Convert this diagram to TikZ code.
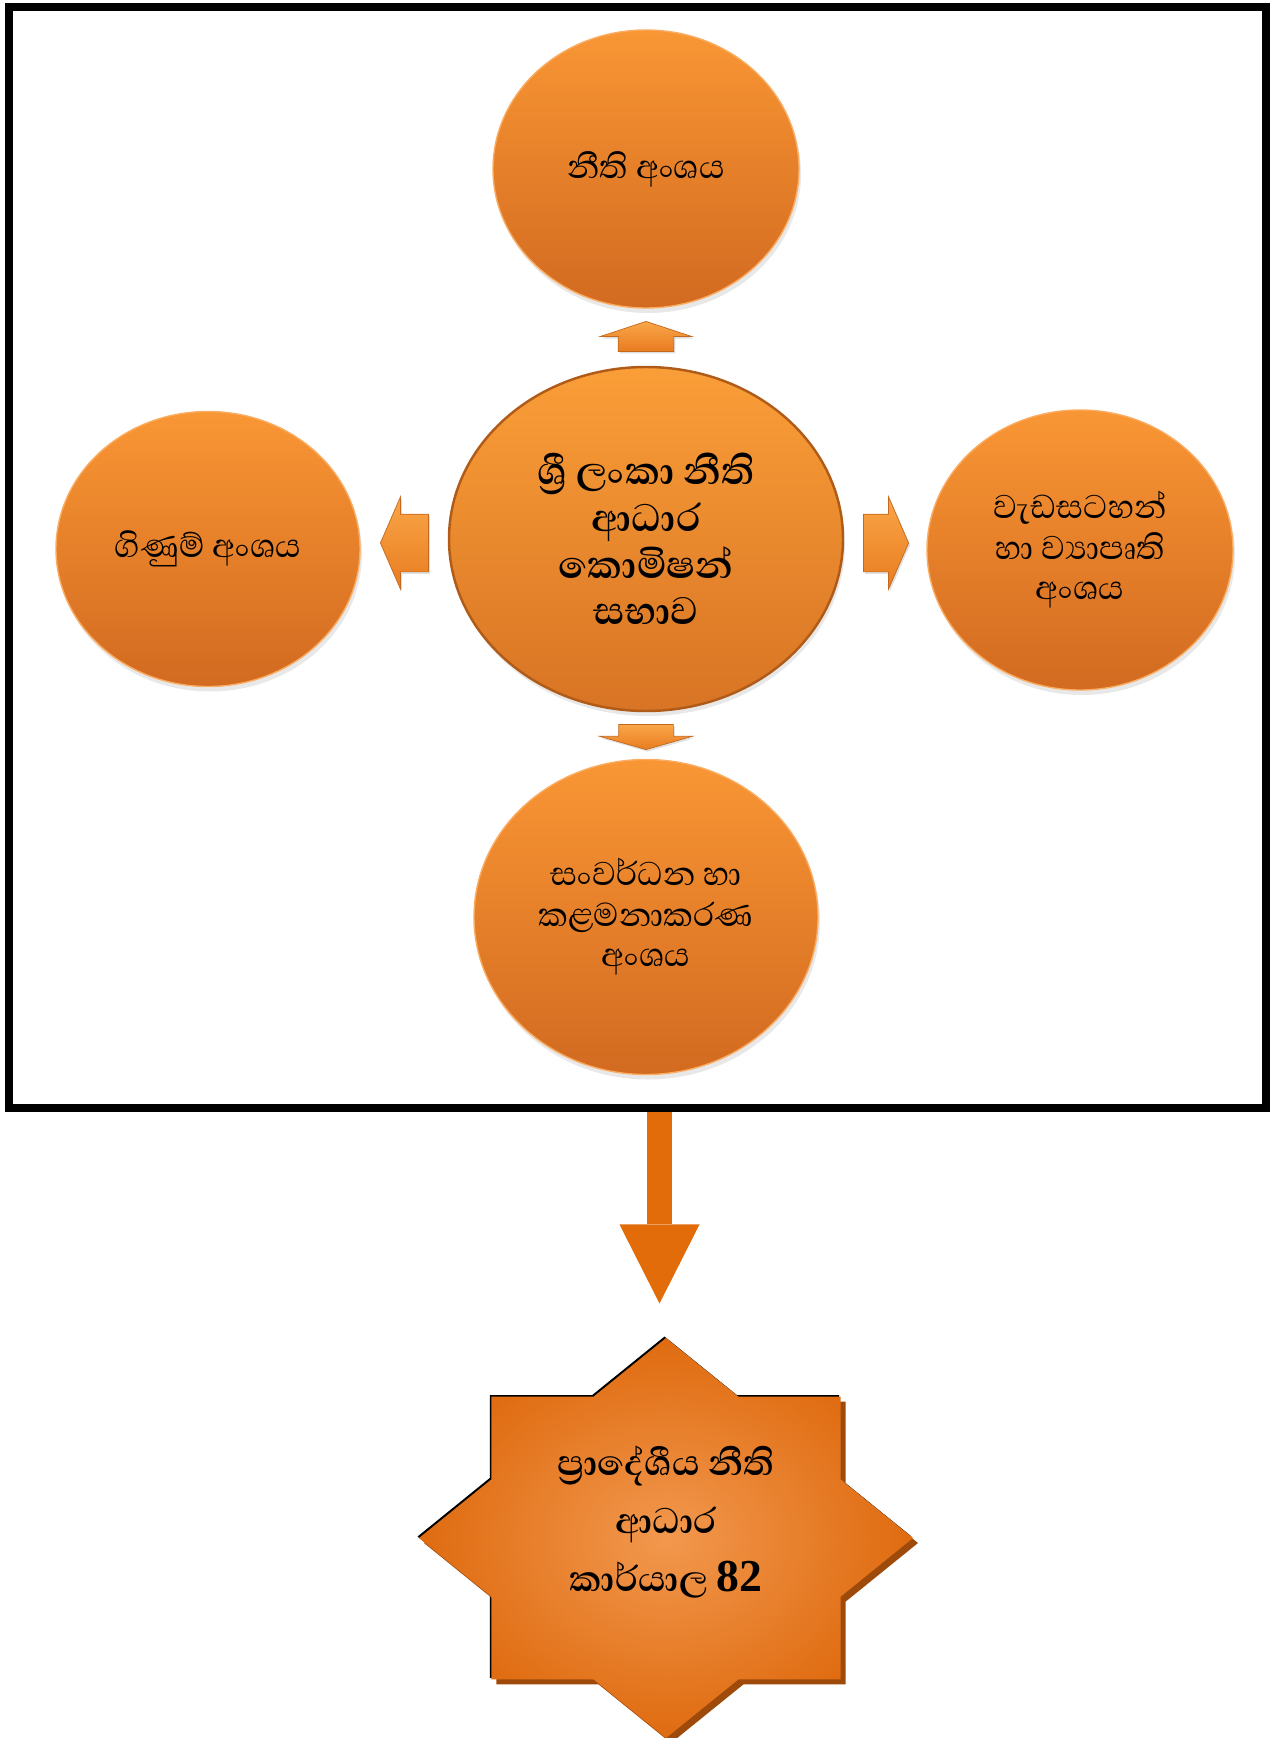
\documentclass[tikz,border=0pt]{standalone}
\usepackage{fontspec}
\usepackage{tikz}
\usetikzlibrary{positioning}
\usetikzlibrary{calc}
\usetikzlibrary{backgrounds}
\usetikzlibrary{arrows.meta}
\usetikzlibrary{shapes.geometric, shapes.arrows}
\usetikzlibrary{shadows}
\newfontfamily\sinhala[Script=Sinhala]{Abhaya Libre}
\newfontfamily\latinserif{Liberation Serif}
\definecolor{unitTop}{RGB}{249,150,52}
\definecolor{unitBottom}{RGB}{210,106,32}
\definecolor{unitEdge}{RGB}{250,172,98}
\definecolor{hubTop}{RGB}{250,158,56}
\definecolor{hubBottom}{RGB}{216,116,36}
\definecolor{hubRim}{RGB}{176,92,24}
\definecolor{linkTop}{RGB}{250,166,72}
\definecolor{linkBottom}{RGB}{232,124,32}
\definecolor{linkEdge}{RGB}{196,104,30}
\definecolor{officeInner}{RGB}{242,152,78}
\definecolor{officeOuter}{RGB}{223,107,16}
\definecolor{officeShadow}{RGB}{158,74,10}
\definecolor{flowOrange}{RGB}{227,108,10}

\begin{document}
\begin{tikzpicture}[
            > = Triangle, % arrow head style
            node distance = 7.4cm, % distance between circle centres
            font = \sinhala
        ]

        \tikzstyle{unit}=[
            ellipse,
            draw = unitEdge,
            line width = 0.8pt,
            top color = unitTop,
            bottom color = unitBottom,
            align = center,
            inner sep = 0pt,
            drop shadow = {opacity=0.18, shadow xshift=0.04cm, shadow yshift=-0.1cm},
            font = \sinhala\fontsize{24}{23}\selectfont
        ]

        \tikzstyle{link}=[
            single arrow,
            draw = linkEdge,
            top color = linkTop,
            bottom color = linkBottom,
            inner xsep = 0pt,
            single arrow head indent = 0pt,
            drop shadow = {opacity=0.25, shadow xshift=0.03cm, shadow yshift=-0.04cm}
        ]

        \useasboundingbox (0,0) rectangle (25.58,-34.76);

	% commission
        \node[unit, draw = hubRim, line width = 1.4pt, top color = hubTop, bottom color = hubBottom,
              minimum width = 7.88cm, minimum height = 6.88cm,
              font = \sinhala\bfseries\fontsize{28}{26.5}\selectfont] (hub) at (12.92,-10.78)
              {ශ්^^^^200dරී ලංකා නීති\\ආධාර\\කොමිෂන්\\සභාව};

         % divisions
         \node[unit, minimum width = 6.12cm, minimum height = 5.56cm] (law) [above of = hub] {නීති අංශය};
         \node[unit, minimum width = 6.08cm, minimum height = 5.50cm] (accounts) [left of = hub, node distance = 8.76cm, yshift = -0.2cm] {ගිණුම් අංශය};
         \node[unit, minimum width = 6.12cm, minimum height = 5.60cm] (programs) [right of = hub, node distance = 8.68cm, yshift = -0.22cm] {වැඩසටහන්\\හා ව්^^^^200dයාපෘති\\අංශය};
         \node[unit, minimum width = 6.88cm, minimum height = 6.30cm] (devel) [below of = hub, node distance = 7.56cm] {සංවර්ධන හා\\කළමනාකරණ\\අංශය};

         % block arrows
         \node[link, rotate = 90, anchor = tail, minimum height = 0.6cm, inner ysep = 0.55cm,
               single arrow head extend = 0.36cm, single arrow tip angle = 143.5] (toLaw) at ([yshift=0.28cm]hub.north) {};
         \node[link, rotate = -90, anchor = tail, minimum height = 0.5cm, inner ysep = 0.54cm,
               single arrow head extend = 0.38cm, single arrow tip angle = 148] (toDevel) at ([yshift=-0.24cm]hub.south) {};
         \node[link, anchor = tail, minimum height = 0.9cm, inner ysep = 0.57cm,
               single arrow head extend = 0.35cm, single arrow tip angle = 133] (toPrograms) at ([xshift=0.38cm, yshift=-0.08cm]hub.east) {};
         \node[link, rotate = 180, anchor = tail, minimum height = 0.96cm, inner ysep = 0.57cm,
               single arrow head extend = 0.35cm, single arrow tip angle = 133] (toAccounts) at ([xshift=-0.38cm, yshift=-0.08cm]hub.west) {};

         % frame
         \node[draw, line width = 0.16cm, minimum width = 25.14cm, minimum height = 22.02cm, inner sep = 0pt] (panel) at (12.75,-11.15) {};

         % regional offices
         \node[star, star points = 8, star point ratio = 1.3066, minimum size = 8cm, inner sep = 0pt, xscale = 1.235,
               inner color = officeInner, outer color = officeOuter,
               general shadow = {fill = black, shadow xshift = -0.03cm, shadow yshift = 0.03cm},
               drop shadow = {fill = officeShadow, opacity = 1, shadow xshift = 0.1cm, shadow yshift = -0.1cm}] (office) at (13.32,-30.76) {};
         \node[align = center, font = \sinhala\bfseries\fontsize{26}{33}\selectfont] (officeText) at ([yshift=0.32cm]office.center)
              {ප්^^^^200dරාදේශීය නීති\\ආධාර\\කාර්යාල {\latinserif\bfseries 82}};

          \begin{scope}[on background layer]
   \draw[draw = flowOrange, line width = 0.5cm, shorten > = 0.68cm,
         -{Triangle[width = 1.6cm, length = 1.58cm, line width = 0pt]}] ([xshift=0.44cm]panel.south) -- ([xshift=-0.13cm]office.north);
  \end{scope}

  \end{tikzpicture}
\end{document}
